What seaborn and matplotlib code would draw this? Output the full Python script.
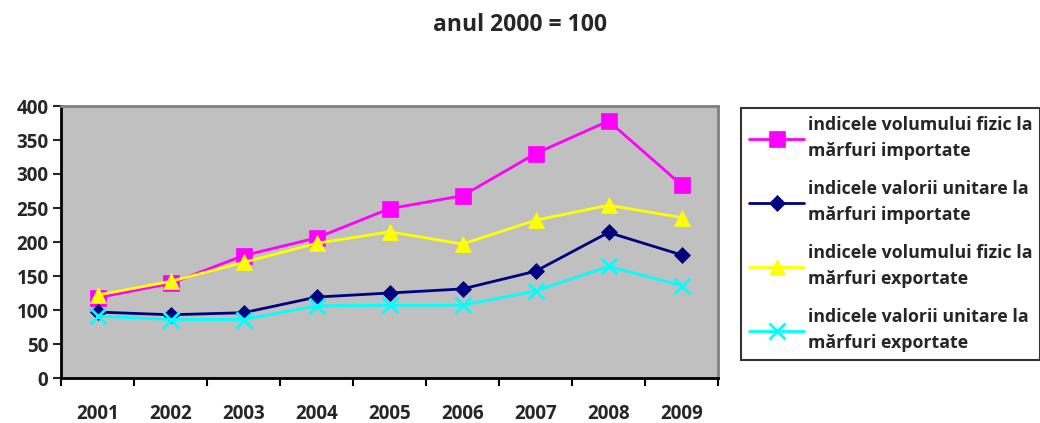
import pandas as pd
import matplotlib.pyplot as plt
import seaborn as sns

years = ['2001', '2002', '2003', '2004', '2005', '2006', '2007', '2008', '2009']
vol_import = [118, 139, 180, 206, 249, 268, 330, 378, 284]
val_import = [97, 93, 96, 119, 125, 131, 157, 214, 181]
vol_export = [122, 142, 170, 198, 215, 197, 232, 254, 236]
val_export = [91, 86, 86, 106, 107, 107, 128, 164, 136]

labels = ['indicele volumului fizic la\nmărfuri importate',
          'indicele valorii unitare la\nmărfuri importate',
          'indicele volumului fizic la\nmărfuri exportate',
          'indicele valorii unitare la\nmărfuri exportate']
colors = ['#FF00FF', '#000080', '#FFFF00', '#00FFFF']
markers = ['s', 'D', '^', 'x']
msizes = [11, 8, 12, 11]

sns.set_theme(style='white')
plt.rcParams['font.family'] = ['Open Sans', 'DejaVu Sans']
plt.rcParams['font.weight'] = 'bold'

fig = plt.figure(figsize=(10.4, 4.23), dpi=100)
ax = fig.add_axes([61 / 1040, 1 - 378 / 423, 657 / 1040, 272 / 423])
ax.set_facecolor('#C0C0C0')

series = [vol_import, val_import, vol_export, val_export]
for vals, lab, col, mk, ms in zip(series, labels, colors, markers, msizes):
    df = pd.DataFrame({'x': range(len(years)), 'y': vals})
    sns.lineplot(data=df, x='x', y='y', ax=ax, color=col, marker=mk,
                 markersize=ms, markeredgecolor=col, markeredgewidth=2 if mk == 'x' else 0.5,
                 linewidth=2, label=lab)

ax.set_xlim(-0.5, len(years) - 0.5)
ax.set_ylim(0, 400)
ax.set_yticks(range(0, 401, 50))
ax.set_xticks([i - 0.5 for i in range(len(years) + 1)])
ax.set_xticklabels([])
ax.set_xticks(range(len(years)), minor=True)
ax.set_xticklabels(years, minor=True, fontsize=13.5, fontweight='bold')
ax.tick_params(axis='x', which='major', direction='out', length=6, width=1.5, colors='black', bottom=True)
ax.tick_params(axis='x', which='minor', length=0, pad=19)
ax.tick_params(axis='y', direction='out', length=6, width=1.5, left=True, labelsize=13.5, pad=3)
for t in ax.get_yticklabels():
    t.set_fontweight('bold')
ax.set_xlabel('')
ax.set_ylabel('')
for s in ['left', 'bottom']:
    ax.spines[s].set_color('black')
    ax.spines[s].set_linewidth(2)
for s in ['top', 'right']:
    ax.spines[s].set_color('#808080')
    ax.spines[s].set_linewidth(2)

fig.text(0.5, 1 - 25 / 423, 'anul 2000 = 100', ha='center', va='center', fontsize=16.5, fontweight='bold')

leg = ax.legend(loc='upper left', bbox_to_anchor=(741 / 1040, 1 - 108 / 423),
                bbox_transform=fig.transFigure, fontsize=12.8, frameon=True,
                handlelength=3.1, handletextpad=0.2, labelspacing=1.15,
                borderpad=0.45, fancybox=False, borderaxespad=0)
leg.get_frame().set_edgecolor('black')
leg.get_frame().set_linewidth(1.5)
for t in leg.get_texts():
    t.set_fontweight('bold')
    t.set_linespacing(1.55)

fig.savefig('out.png', dpi=100)
